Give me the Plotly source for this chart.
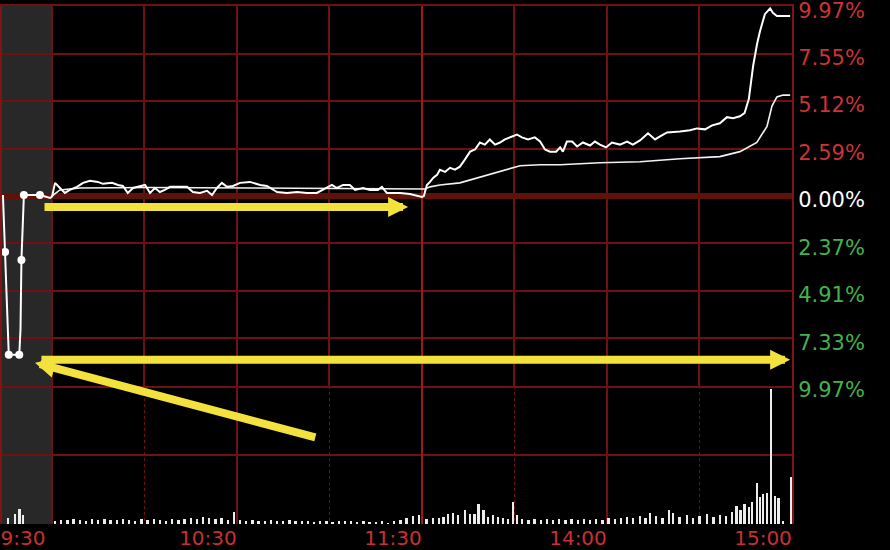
import plotly.graph_objects as go

# ---------------- data (minutes after 9:30 in trading time; 11:30 == 13:00 == 120) ----------------
# call auction (9:15-9:25) indicative price, % change
auction_t = [-15.9, -15.6, -15.2, -14.8, -14.4, -14.0, -10.6, -10.2, -9.9, -9.5, -9.1, -3.9, -0.6, 0.0]
auction_v = [0.05, -1.20, -2.94, -4.60, -7.20, -8.34, -8.34, -7.00, -3.36, -1.50, 0.05, 0.05, -0.10, -0.05]
auction_dot_t = [-15.2, -14.0, -10.6, -9.9, -9.1, -3.9]
auction_dot_v = [-2.94, -8.34, -8.34, -3.36, 0.05, 0.05]

# intraday price line, % change
price_t = [
    0, 1.0, 2.6, 4.2, 5.8, 8.1, 10.1, 12.3, 14.9, 16.5,
    19.5, 21.4, 23.0, 24.6, 26.3, 28.5, 30.2, 31.8, 33.4, 35.0,
    36.6, 38.3, 40.5, 43.8, 45.7, 48.0, 50.3, 51.9, 53.5, 55.1,
    56.8, 58.7, 61.0, 64.2, 67.5, 69.7, 73.0, 76.2, 79.5, 82.7,
    85.9, 89.2, 90.8, 92.4, 94.4, 96.6, 98.3, 100.9, 103.1, 105.7,
    107.0, 108.6, 110.6, 112.9, 116.1, 119.4, 120,
    120.6, 121.6, 122.6, 123.6, 124.9, 125.8, 127.5, 129.1, 130.7, 132.3,
    133.9, 135.6, 137.2, 138.8, 140.4, 142.0, 143.7, 145.3, 146.9, 148.5,
    150.8, 152.4, 154.4, 156.6, 158.3, 159.9, 161.5, 163.5, 164.8, 165.7,
    167.0, 168.7, 170.3, 172.2, 174.5, 176.1, 177.7, 179.7, 181.6, 184.2,
    186.5, 188.4, 190.7, 193.3, 195.6, 197.2, 199.5, 203.7, 206.9, 209.2,
    211.8, 214.1, 216.6, 218.9, 220.9, 223.1, 224.6, 226.0, 227.4, 228.7,
    229.6, 231.2, 232.9, 233.8, 235.1, 239.4,
]
price_v = [
    -0.05, 0.69, 0.42, 0.16, 0.32, 0.48, 0.69, 0.80, 0.74, 0.64,
    0.69, 0.58, 0.53, 0.16, 0.42, 0.53, 0.58, 0.16, 0.42, 0.21,
    0.32, 0.48, 0.48, 0.48, 0.21, 0.16, 0.27, 0.05, 0.42, 0.69,
    0.48, 0.53, 0.69, 0.74, 0.58, 0.53, 0.21, 0.16, 0.21, 0.16,
    0.16, 0.42, 0.58, 0.42, 0.58, 0.58, 0.32, 0.42, 0.32, 0.32,
    0.48, 0.16, 0.16, 0.16, 0.11, 0.00, -0.05,
    0.00, 0.58, 0.74, 0.95, 1.11, 1.38, 1.27, 1.48, 1.38, 1.54,
    1.91, 2.33, 2.44, 2.81, 2.70, 2.97, 2.70, 2.81, 2.97, 3.08,
    3.23, 3.08, 2.97, 3.08, 2.86, 2.44, 2.33, 2.33, 2.55, 2.33,
    2.86, 2.86, 2.60, 2.81, 2.65, 2.86, 2.70, 2.55, 2.81, 2.70,
    2.86, 2.70, 2.92, 3.29, 2.97, 3.13, 3.34, 3.39, 3.45, 3.55,
    3.50, 3.71, 3.82, 4.14, 4.08, 4.19, 4.35, 5.09, 6.84, 8.01,
    8.64, 9.55, 9.85, 9.62, 9.45, 9.45,
]

# average price line, % change
avg_t = [0, 2.6, 9.1, 31.8, 64.2, 90.2, 119.4, 121, 122.6, 125.8,
         132.3, 138.8, 145.3, 151.8, 158.3, 164.8, 177.7, 190.7, 203.7, 216.6,
         223.1, 228.6, 231.9, 233.5, 235.1, 237.1, 239.4]
avg_v = [0.00, 0.32, 0.42, 0.45, 0.42, 0.40, 0.37, 0.37, 0.48, 0.58,
         0.69, 1.00, 1.27, 1.59, 1.64, 1.64, 1.75, 1.80, 1.96, 2.07,
         2.33, 2.81, 3.66, 4.72, 5.20, 5.30, 5.30]

# volume
auction_vol_t = [-14.3, -12.0, -10.5, -9.4]
auction_vol_v = [6, 10, 15, 9]
morning_vol_t = list(range(1, 120, 2))
morning_vol_v = [3, 4, 4, 5, 4, 3, 5, 4, 5, 4,
                 4, 5, 4, 3, 5, 4, 5, 4, 3, 5,
                 4, 5, 6, 5, 7, 6, 5, 6, 4, 12,
                 4, 3, 4, 3, 3, 4, 3, 3, 4, 3,
                 3, 3, 2, 3, 3, 2, 3, 3, 3, 2,
                 3, 2, 2, 3, 1, 3, 4, 6, 8, 9]
afternoon_vol_t = [121.5, 123.5, 125.5, 127, 128.5, 130, 131.7, 134, 135.6, 137,
                   138.3, 140, 141.5, 143, 144.7, 146.2, 147.8, 149.5, 150.8, 152.5,
                   154.5, 156.5, 158.5, 160.5, 162.5, 164.5, 166.5, 168.5, 170.5, 172.5,
                   174.5, 176.5, 178.5, 180.5, 182.5, 184.5, 186.5, 188.5, 190.7, 192.5,
                   194, 196, 198, 200, 201.5, 203.5, 206, 208, 210, 212.4,
                   214.5, 216.7, 218.5, 220.5, 222, 223.3, 224.6, 226, 227, 228.6,
                   229.6, 230.7, 232, 233.2, 234.5, 235.6, 237, 239.7]
afternoon_vol_v = [5, 6, 6, 7, 10, 11, 9, 14, 10, 10,
                   20, 14, 7, 9, 7, 6, 5, 22, 9, 5,
                   4, 5, 4, 5, 4, 5, 4, 5, 4, 5,
                   4, 5, 4, 6, 5, 6, 7, 6, 8, 6,
                   11, 8, 6, 14, 11, 7, 9, 6, 8, 10,
                   7, 9, 8, 12, 18, 14, 20, 17, 22, 42,
                   27, 30, 31, 137, 28, 26, 3, 48]

# axis labels
time_tick_t = [0, 60, 120, 180, 240]
time_tick_text = ["9:30", "10:30", "11:30", "14:00", "15:00"]
pct_tick_text = ["9.97%", "7.55%", "5.12%", "2.59%", "0.00%", "2.37%", "4.91%", "7.33%", "9.97%"]
LIMIT = 9.97

# annotation arrows (tail t, tail v, head t, head v)
arrow_flat_morning = (-2.9, -0.58, 115.5, -0.58)
arrow_long = (-3.9, -8.6, 239.4, -8.6)
arrow_diag = (85.9, -12.7, -5.5, -8.76)

# ---------------- styling ----------------
GRID = "#6e1111"
RED_TXT = "#cc3333"
GREEN_TXT = "#44b24a"
YELLOW = "#f3e23e"
X_RANGE = [-16.2, 240]
Y_RANGE = [-LIMIT * 1.0008, LIMIT * 1.0008]
SPLIT = 0.2664
VOL_MAX = 140

pct_tick_pos = [LIMIT - i * LIMIT / 4 for i in range(9)]
pct_tick_lbl = []
for pos, txt in zip(pct_tick_pos, pct_tick_text):
    col = RED_TXT if pos > 0.01 else (GREEN_TXT if pos < -0.01 else "#ffffff")
    pct_tick_lbl.append(f'<span style="color:{col}">{txt}</span>')

vol_t = auction_vol_t + morning_vol_t + afternoon_vol_t
vol_v = auction_vol_v + morning_vol_v + afternoon_vol_v

noon = time_tick_t[2]
fig = go.Figure()
# brighter session-break line (11:30 / 13:00), drawn under the data
fig.add_trace(go.Scatter(x=[noon, noon], y=Y_RANGE, mode="lines",
                         line=dict(color="#9c1a1a", width=2), cliponaxis=False))
fig.add_trace(go.Scatter(x=[noon, noon], y=[0, VOL_MAX], xaxis="x2", yaxis="y2", mode="lines",
                         line=dict(color="#9c1a1a", width=2), cliponaxis=False))
fig.add_trace(go.Bar(x=vol_t, y=vol_v, xaxis="x2", yaxis="y2", width=0.75,
                     marker=dict(color="#ededed", line=dict(width=0))))
fig.add_trace(go.Scatter(x=avg_t, y=avg_v, mode="lines",
                         line=dict(color="#f2f2f2", width=1.6)))
fig.add_trace(go.Scatter(x=auction_t, y=auction_v, mode="lines",
                         line=dict(color="#ffffff", width=2)))
fig.add_trace(go.Scatter(x=price_t, y=price_v, mode="lines",
                         line=dict(color="#ffffff", width=2)))
fig.add_trace(go.Scatter(x=auction_dot_t, y=auction_dot_v, mode="markers",
                         marker=dict(color="#ffffff", size=8)))

shapes = [
    dict(type="rect", xref="x", yref="paper", x0=X_RANGE[0], x1=0, y0=0, y1=1,
         fillcolor="#282828", line=dict(width=0), layer="below"),
]

annotations = []
for (at, av, ht, hv) in (arrow_flat_morning, arrow_long, arrow_diag):
    annotations.append(dict(x=ht, y=hv, ax=at, ay=av, xref="x", yref="y", axref="x", ayref="y",
                            text="", showarrow=True, arrowhead=2, arrowsize=0.5,
                            arrowwidth=8, arrowcolor=YELLOW, standoff=0, startstandoff=0))

fig.update_layout(
    width=890, height=550,
    margin=dict(l=2, r=98, t=6, b=26, autoexpand=False),
    paper_bgcolor="#000000", plot_bgcolor="#000000",
    showlegend=False, hovermode=False, bargap=0,
    xaxis=dict(domain=[0, 1], anchor="y", range=X_RANGE, tickvals=time_tick_t,
               showticklabels=False, ticks="", showgrid=True, gridcolor=GRID, gridwidth=2,
               zeroline=False, showline=True, mirror=True, linecolor=GRID, linewidth=2,
               automargin=False,
               minor=dict(dtick=30, tick0=0, showgrid=True, gridcolor=GRID, gridwidth=2)),
    xaxis2=dict(domain=[0, 1], anchor="y2", matches="x", range=X_RANGE, tickvals=time_tick_t,
                ticktext=time_tick_text, ticks="", showgrid=True, gridcolor=GRID, gridwidth=2,
                zeroline=False, ticklabelshift=-29, ticklabeloverflow="allow", automargin=False,
                tickfont=dict(family="DejaVu Sans", size=20, color="#c83030"),
                minor=dict(dtick=30, tick0=0, showgrid=True, gridcolor=GRID, gridwidth=1,
                           griddash="dot")),
    yaxis=dict(domain=[SPLIT, 1], anchor="x", side="right", range=Y_RANGE,
               tickvals=pct_tick_pos, ticktext=pct_tick_lbl, ticks="",
               ticklabeloverflow="allow", automargin=False, ticklabelshift=4,
               tickfont=dict(family="DejaVu Sans", size=21, color=RED_TXT),
               showgrid=True, gridcolor=GRID, gridwidth=2,
               zeroline=True, zerolinecolor="#5e120a", zerolinewidth=6,
               showline=True, mirror=True, linecolor="#7e1414", linewidth=2),
    yaxis2=dict(domain=[0, SPLIT], anchor="x2", side="right", range=[0, VOL_MAX],
                tickvals=[VOL_MAX / 2], showticklabels=False, ticks="", automargin=False,
                showgrid=True, gridcolor=GRID, gridwidth=2, zeroline=False,
                showline=True, mirror=True, linecolor="#7e1414", linewidth=2),
    shapes=shapes,
    annotations=annotations,
)

fig.write_html("out.html", config={"displayModeBar": False},
               post_script="document.body.style.margin='0';document.body.style.background='#000';")
